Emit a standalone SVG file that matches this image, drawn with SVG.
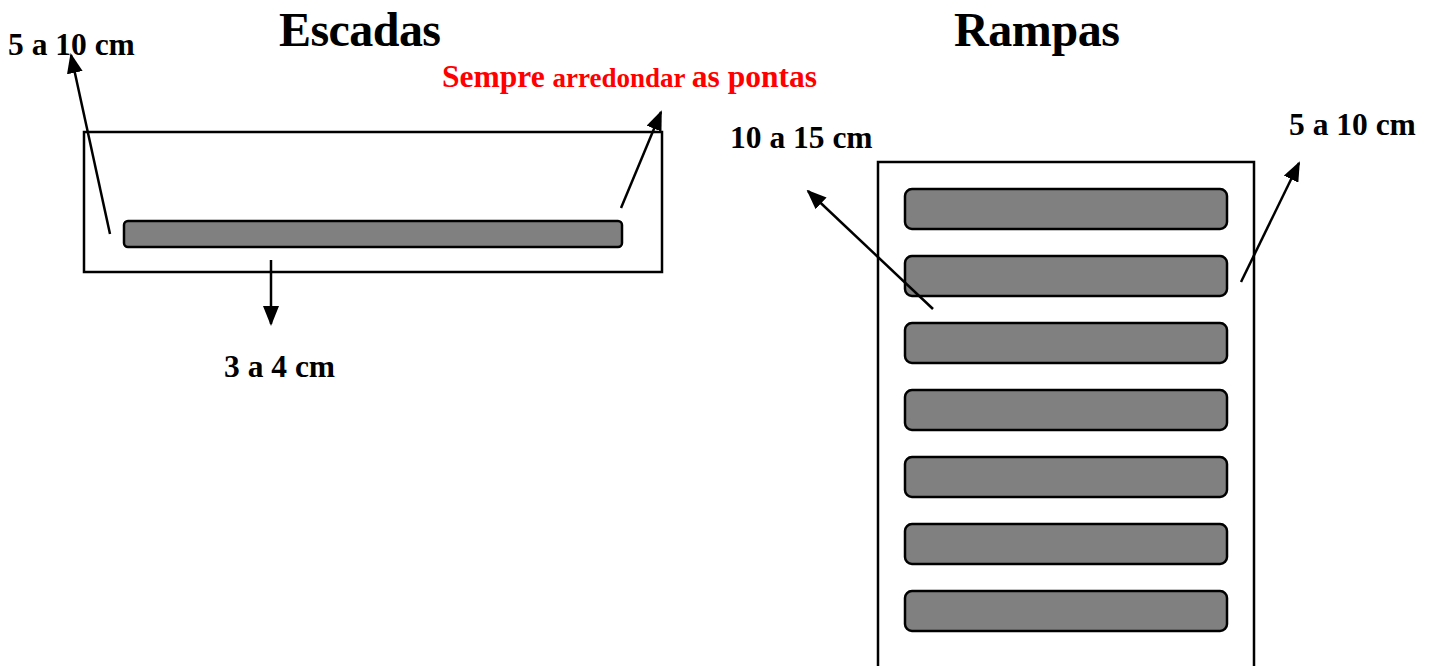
<svg xmlns="http://www.w3.org/2000/svg" width="1434" height="666" viewBox="0 0 1434 666">
<style>
.t{font-family:"Liberation Serif","Times New Roman",serif;font-weight:bold;fill:#000}
.title{font-size:48px}
.lbl{font-size:31.5px}
.red{fill:#ff0000}
.box{fill:none;stroke:#000;stroke-width:2.5}
.bar{fill:#808080;stroke:#000;stroke-width:2.5}
.ln{stroke:#000;stroke-width:2.5;fill:none;marker-end:url(#ah)}
</style>
<defs>
<marker id="ah" markerUnits="userSpaceOnUse" markerWidth="20" markerHeight="16" viewBox="0 0 20 16" refX="18" refY="8" orient="auto">
<path d="M0,0 L20,8 L0,16 Z" fill="#000"/>
</marker>
</defs>
<rect width="1434" height="666" fill="#fff"/>
<g id="titles">
<text class="t title" x="279" y="46" textLength="162">Escadas</text>
<text class="t title" x="954" y="46" textLength="166">Rampas</text>
</g>
<g id="escadas">
<rect class="box" x="84" y="132" width="578" height="140"/>
<rect class="bar" x="124" y="221" width="498" height="26" rx="4"/>
</g>
<g id="rampas">
<path class="box" d="M878,670 V162 H1254 V670"/>
<rect class="bar" x="905" y="189" width="322" height="40" rx="7"/>
<rect class="bar" x="905" y="256" width="322" height="40" rx="7"/>
<rect class="bar" x="905" y="323" width="322" height="40" rx="7"/>
<rect class="bar" x="905" y="390" width="322" height="40" rx="7"/>
<rect class="bar" x="905" y="457" width="322" height="40" rx="7"/>
<rect class="bar" x="905" y="524" width="322" height="40" rx="7"/>
<rect class="bar" x="905" y="591" width="322" height="40" rx="7"/>
</g>
<g id="connectors">
<line class="ln" x1="110" y1="234" x2="71" y2="55"/>
<line class="ln" x1="621" y1="208" x2="661" y2="112"/>
<line class="ln" x1="271" y1="260" x2="271" y2="324"/>
<line class="ln" x1="933" y1="309" x2="808" y2="191"/>
<line class="ln" x1="1241" y1="282" x2="1299" y2="163"/>
</g>
<g id="labels">
<text class="t lbl" x="8" y="55">5 a 10 cm</text>
<text class="t red" x="442" y="87"><tspan font-size="31.5">Sempre </tspan><tspan font-size="27">arredondar </tspan><tspan font-size="31.5">as pontas</tspan></text>
<text class="t lbl" x="224" y="377">3 a 4 cm</text>
<text class="t lbl" x="730" y="148">10 a 15 cm</text>
<text class="t lbl" x="1289" y="135">5 a 10 cm</text>
</g>
</svg>
